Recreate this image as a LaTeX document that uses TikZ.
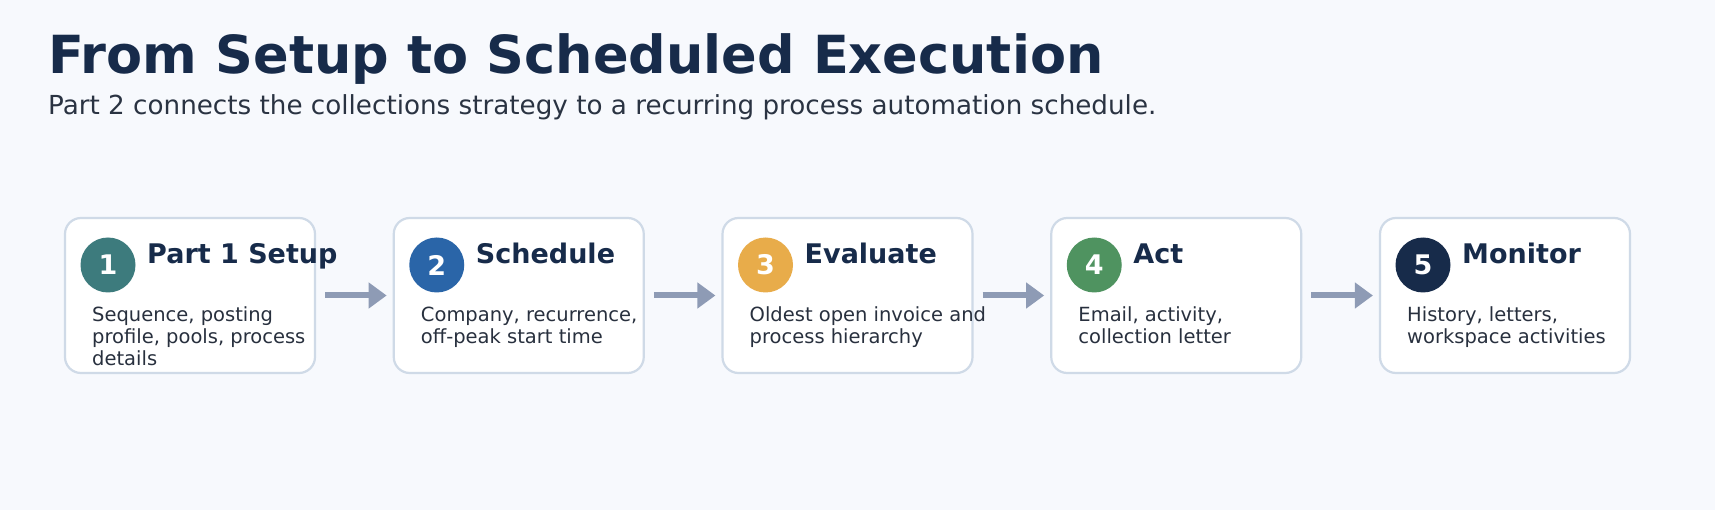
\documentclass[tikz,border=0pt]{standalone}
\usepackage{fontspec}
\setmainfont{DejaVu Sans}
\usetikzlibrary{arrows.meta}
\definecolor{bgc}{HTML}{F7F9FD}
\definecolor{titlec}{HTML}{172B4A}
\definecolor{subc}{HTML}{2A3342}
\definecolor{bodyc}{HTML}{28303E}
\definecolor{borderc}{HTML}{CFDAE7}
\definecolor{arrowc}{HTML}{8E9BB5}
\definecolor{cone}{HTML}{3D7B7D}
\definecolor{ctwo}{HTML}{2A65A8}
\definecolor{cthree}{HTML}{E8AC4A}
\definecolor{cfour}{HTML}{4F9360}
\definecolor{cfive}{HTML}{172B4A}
\tikzset{
  stepbox/.style={draw=borderc, line width=2.2pt, fill=white, rounded corners=16pt,
    minimum width=250pt, minimum height=155pt, inner sep=0pt},
  numdot/.style={circle, minimum size=55pt, inner sep=0pt, text=white,
    font=\fontsize{27}{27}\selectfont\bfseries},
  headtxt/.style={anchor=base west, inner sep=0pt, text=titlec,
    font=\fontsize{27}{27}\selectfont\bfseries},
  bodytxt/.style={anchor=base west, inner sep=0pt, text=bodyc,
    font=\fontsize{19.5}{22}\selectfont},
  flowarrow/.style={draw=arrowc, line width=6pt, -{Triangle[length=18pt,width=25pt]}},
}
\begin{document}
\begin{tikzpicture}[x=1pt,y=-1pt]
\fill[bgc] (0,0) rectangle (1715,510);
\useasboundingbox (0,0) rectangle (1715,510);
\node[anchor=base west, inner sep=0pt, text=titlec, font=\fontsize{52.5}{52.5}\selectfont\bfseries]
  (title) at (48,73.3) {From Setup to Scheduled Execution};
\node[anchor=base west, inner sep=0pt, text=subc, font=\fontsize{26.2}{26.2}\selectfont]
  (subtitle) at (48,114.3) {Part 2 connects the collections strategy to a recurring process automation schedule.};
% boxes
\node[stepbox] (b1) at (190,295.5) {};
\node[stepbox] (b2) at (518.75,295.5) {};
\node[stepbox] (b3) at (847.5,295.5) {};
\node[stepbox] (b4) at (1176.25,295.5) {};
\node[stepbox] (b5) at (1505,295.5) {};
% number circles
\node[numdot, fill=cone] (n1) at (108,265) {1};
\node[numdot, fill=ctwo] (n2) at (436.75,265) {2};
\node[numdot, fill=cthree] (n3) at (765.5,265) {3};
\node[numdot, fill=cfour] (n4) at (1094.25,265) {4};
\node[numdot, fill=cfive] (n5) at (1423,265) {5};
% headings
\node[headtxt] (h1) at (147,264) {Part 1 Setup};
\node[headtxt] (h2) at (475.75,264) {Schedule};
\node[headtxt] (h3) at (804.5,264) {Evaluate};
\node[headtxt] (h4) at (1133.25,264) {Act};
\node[headtxt] (h5) at (1462,264) {Monitor};
% body
\node[bodytxt] (t1a) at (92,322) {Sequence, posting};
\node[bodytxt] (t1b) at (92,344) {profile, pools, process};
\node[bodytxt] (t1c) at (92,366) {details};
\node[bodytxt] (t2a) at (420.75,322) {Company, recurrence,};
\node[bodytxt] (t2b) at (420.75,344) {off-peak start time};
\node[bodytxt] (t3a) at (749.5,322) {Oldest open invoice and};
\node[bodytxt] (t3b) at (749.5,344) {process hierarchy};
\node[bodytxt] (t4a) at (1078.25,322) {Email, activity,};
\node[bodytxt] (t4b) at (1078.25,344) {collection letter};
\node[bodytxt] (t5a) at (1407,322) {History, letters,};
\node[bodytxt] (t5b) at (1407,344) {workspace activities};
% arrows
\draw[flowarrow] ([xshift=9pt]b1.east) -- ([xshift=-6pt]b2.west);
\draw[flowarrow] ([xshift=9pt]b2.east) -- ([xshift=-6pt]b3.west);
\draw[flowarrow] ([xshift=9pt]b3.east) -- ([xshift=-6pt]b4.west);
\draw[flowarrow] ([xshift=9pt]b4.east) -- ([xshift=-6pt]b5.west);
\end{tikzpicture}
\end{document}
